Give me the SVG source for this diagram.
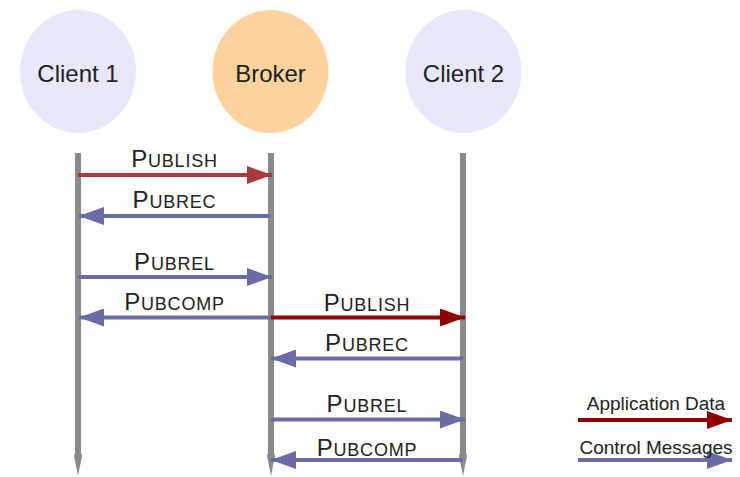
<svg xmlns="http://www.w3.org/2000/svg" width="740" height="477" viewBox="0 0 740 477">
<defs>
<style>
.node-c{fill:#e8e8fc}
.node-b{fill:#ffd39e}
.name{font-family:"Liberation Sans",Arial,sans-serif;font-size:24px;fill:#222;text-anchor:middle}
.life{fill:#8a8a8a}
.lbl{font-family:"Liberation Sans",Arial,sans-serif;font-size:18px;fill:#222;text-anchor:middle;letter-spacing:0.8px}
.cap{font-size:24px}
.ctl{stroke:#6b6ba8;stroke-width:4;fill:none}
.app1{stroke:#a83c3c;stroke-width:4;fill:none}
.app2{stroke:#900000;stroke-width:4;fill:none}
.leg{font-family:"Liberation Sans",Arial,sans-serif;font-size:19px;fill:#222;text-anchor:middle}
</style>
<marker id="hc" viewBox="0 0 25 18" refX="25" refY="9" markerWidth="25" markerHeight="18" markerUnits="userSpaceOnUse" orient="auto"><path d="M0,0 L25,9 L0,18 Z" fill="#6b6ba8"/></marker>
<marker id="ha1" viewBox="0 0 25 18" refX="25" refY="9" markerWidth="25" markerHeight="18" markerUnits="userSpaceOnUse" orient="auto"><path d="M0,0 L25,9 L0,18 Z" fill="#a83c3c"/></marker>
<marker id="ha2" viewBox="0 0 25 18" refX="25" refY="9" markerWidth="25" markerHeight="18" markerUnits="userSpaceOnUse" orient="auto"><path d="M0,0 L25,9 L0,18 Z" fill="#900000"/></marker>
</defs>
<rect width="740" height="477" fill="#fff"/>
<g id="client1">
<ellipse class="node-c" cx="78" cy="71.5" rx="58" ry="61.5"/>
<text class="name" x="78" y="81.5">Client 1</text>
<path class="life" d="M75,153 H81 V453 L82,456 L78,476 L74,456 L75,453 Z"/>
</g>
<g id="broker">
<ellipse class="node-b" cx="270.5" cy="71.5" rx="58" ry="61.5"/>
<text class="name" x="270.5" y="81.5">Broker</text>
<path class="life" d="M268,153 H274 V453 L275,456 L271,476 L267,456 L268,453 Z"/>
</g>
<g id="client2">
<ellipse class="node-c" cx="463.5" cy="71.5" rx="58" ry="61.5"/>
<text class="name" x="463.5" y="81.5">Client 2</text>
<path class="life" d="M460,153 H466 V453 L467,456 L463,476 L459,456 L460,453 Z"/>
</g>
<g id="connectors">
<line class="app1" x1="78" y1="175" x2="272" y2="175" marker-end="url(#ha1)"/>
<text class="lbl" x="174.5" y="167"><tspan class="cap">P</tspan>UBLISH</text>
<line class="ctl" x1="271" y1="216" x2="79" y2="216" marker-end="url(#hc)"/>
<text class="lbl" x="174.5" y="208"><tspan class="cap">P</tspan>UBREC</text>
<line class="ctl" x1="78" y1="277" x2="272" y2="277" marker-end="url(#hc)"/>
<text class="lbl" x="174.5" y="269.5"><tspan class="cap">P</tspan>UBREL</text>
<line class="ctl" x1="271" y1="317.5" x2="79" y2="317.5" marker-end="url(#hc)"/>
<text class="lbl" x="174.5" y="309.5"><tspan class="cap">P</tspan>UBCOMP</text>
<line class="app2" x1="271" y1="317.5" x2="465" y2="317.5" marker-end="url(#ha2)"/>
<text class="lbl" x="367" y="310.5"><tspan class="cap">P</tspan>UBLISH</text>
<line class="ctl" x1="463" y1="358.5" x2="271" y2="358.5" marker-end="url(#hc)"/>
<text class="lbl" x="367" y="351"><tspan class="cap">P</tspan>UBREC</text>
<line class="ctl" x1="271" y1="419.5" x2="465" y2="419.5" marker-end="url(#hc)"/>
<text class="lbl" x="367" y="412"><tspan class="cap">P</tspan>UBREL</text>
<line class="ctl" x1="463" y1="460" x2="271" y2="460" marker-end="url(#hc)"/>
<text class="lbl" x="367" y="456"><tspan class="cap">P</tspan>UBCOMP</text>
</g>
<g id="legend">
<line class="app2" x1="578" y1="420" x2="732" y2="420" marker-end="url(#ha2)"/>
<text class="leg" x="656" y="410">Application Data</text>
<line class="ctl" x1="578" y1="460" x2="732" y2="460" marker-end="url(#hc)"/>
<text class="leg" x="656" y="454">Control Messages</text>
</g>
</svg>
